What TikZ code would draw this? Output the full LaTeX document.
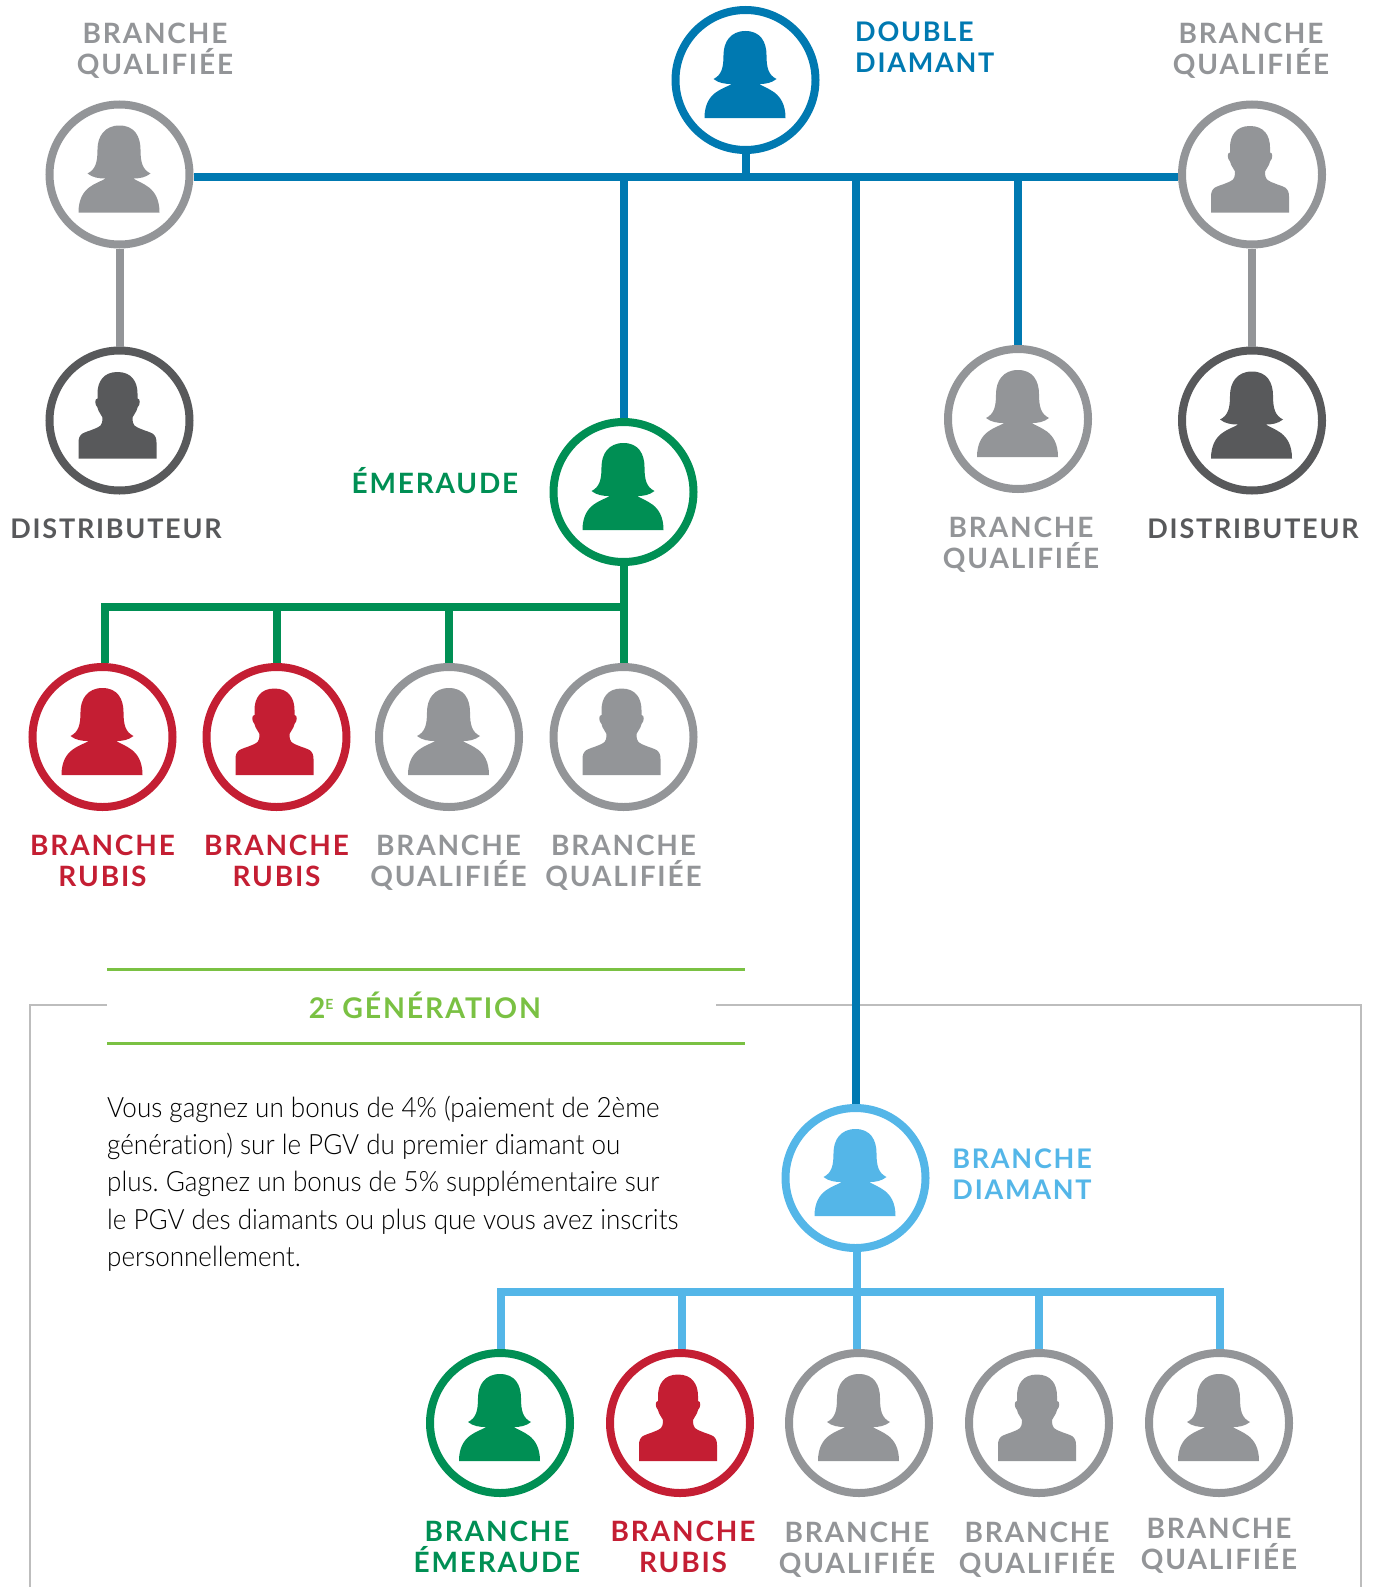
\documentclass[tikz,border=0pt]{standalone}
\usepackage{fontspec}
\setmainfont{Lato}
\newfontfamily\etiqfont[LetterSpace=6.5]{Lato}
\newfontfamily\corpsfont[FakeStretch=0.93,Ligatures=NoCommon]{Lato Light}
\definecolor{bleu}{HTML}{0079B1}
\definecolor{ciel}{HTML}{54B6E8}
\definecolor{vert}{HTML}{008F54}
\definecolor{rubis}{HTML}{C41E33}
\definecolor{gris}{HTML}{939598}
\definecolor{sombre}{HTML}{58595B}
\definecolor{lime}{HTML}{7AC143}
\definecolor{cadre}{HTML}{BDBDBD}
\tikzset{
  pers/.style={circle, draw=#1, line width=8pt, minimum size=140pt, inner sep=0pt},
  lien/.style={line width=8pt, draw=#1},
  etiq/.style={text=#1, font=\etiqfont\bfseries\fontsize{28}{31.4}\selectfont, align=center, inner sep=0pt},
  etiqp/.style={etiq=#1, font=\etiqfont\bfseries\fontsize{27}{31}\selectfont},
  femme/.pic={\fill[#1] (0,-49) .. controls (15,-49) and (21,-38) .. (21,-25)
    .. controls (21,-12) and (23,-5) .. (31,-1) .. controls (26,3) and (20,4) .. (14,4)
    .. controls (20,9) and (40,11) .. (40,38) -- (-41,38)
    .. controls (-41,11) and (-21,9) .. (-14,4) .. controls (-21,4) and (-27,3) .. (-32,-1)
    .. controls (-24,-5) and (-22,-12) .. (-22,-25) .. controls (-22,-38) and (-15,-49) .. (0,-49) -- cycle;},
  homme/.pic={\fill[#1] (-2,-48.5) .. controls (12,-48.5) and (18,-39) .. (18,-27) -- (18,-22)
    .. controls (21,-22) and (21,-16) .. (18,-13) .. controls (17,-8) and (14,-6) .. (13,-3)
    .. controls (13,2) and (14,4) .. (15,5) .. controls (20,9) and (30,11) .. (33,13)
    .. controls (36,15) and (37,18) .. (37,22) -- (37,38) -- (-41,38) -- (-41,22)
    .. controls (-41,18) and (-40,15) .. (-37,13) .. controls (-34,11) and (-24,9) .. (-19,5)
    .. controls (-18,4) and (-17,2) .. (-17,-3) .. controls (-18,-6) and (-21,-8) .. (-22,-13)
    .. controls (-25,-16) and (-25,-22) .. (-22,-22) -- (-22,-27)
    .. controls (-22,-39) and (-16,-48.5) .. (-2,-48.5) -- cycle;}
}
\begin{document}
\begin{tikzpicture}[x=1pt, y=-1pt]
    \useasboundingbox (0,0) rectangle (1376,1587);

    % Frame and title rules
    \draw[cadre, line width=1.3pt] (107,1005) -- (30,1005) -- (30,1587);
    \draw[cadre, line width=1.3pt] (716,1005) -- (1361,1005) -- (1361,1587);
    \draw[lime, line width=3pt] (107,969) -- (744.5,969);
    \draw[lime, line width=3pt] (107,1043) -- (744.5,1043);

    % Draw nodes for the top branch
    \node[pers=bleu] (dd) at (745.5,80) {};
    \node[pers=gris] (qg) at (119.5,174.5) {};
    \node[pers=gris] (qd) at (1252,174.5) {};
    \node[pers=sombre] (dg) at (119.5,420.5) {};
    \node[pers=sombre] (dr) at (1252,420.5) {};
    \node[pers=gris] (qm) at (1018,419) {};
    \node[pers=vert] (em) at (623.5,492) {};

    % Draw nodes for the emerald row
    \node[pers=rubis] (r1) at (102.5,737) {};
    \node[pers=rubis] (r2) at (276.5,737) {};
    \node[pers=gris] (q1) at (449,737) {};
    \node[pers=gris] (q2) at (623.5,737) {};

    % Draw nodes for the diamond row
    \node[pers=ciel] (bd) at (855.5,1178) {};
    \node[pers=vert] (b1) at (500,1423) {};
    \node[pers=rubis] (b2) at (680,1423) {};
    \node[pers=gris] (b3) at (859,1423) {};
    \node[pers=gris] (b4) at (1039,1423) {};
    \node[pers=gris] (b5) at (1219,1423) {};

    % Junctions
    \coordinate (hub) at (745.5,177);
    \coordinate (hubem) at (623.5,607);
    \coordinate (hubr) at (105,607);
    \coordinate (hubbd) at (857,1292);
    \coordinate (hubb1) at (501,1292);
    \coordinate (hubb2) at (682,1292);
    \coordinate (hubb5) at (1220,1292);

    % Draw edges of the top branch
    \draw[lien=bleu] (qg.east |- hub) -- (qd.west |- hub);
    \draw[lien=bleu] (dd) -- (hub);
    \draw[lien=bleu] (em |- hub) -- (em);
    \draw[lien=bleu] (qm |- hub) -- (qm);
    \draw[lien=bleu] (bd |- hub) -- (bd);
    \draw[lien=gris] (qg) -- (dg);
    \draw[lien=gris] (qd) -- (dr);

    % Draw edges of the emerald row
    \draw[lien=vert] (em) -- (q2);
    \draw[lien=vert, line cap=rect] (hubr) -- (hubem);
    \draw[lien=vert] (hubr) -- (hubr |- r1.north);
    \draw[lien=vert] (r2 |- hubem) -- (r2);
    \draw[lien=vert] (q1 |- hubem) -- (q1);

    % Draw edges of the diamond row
    \draw[lien=ciel] (hubbd |- bd.south) -- (hubbd);
    \draw[lien=ciel, line cap=rect] (hubb1) -- (hubb5);
    \draw[lien=ciel] (hubb1) -- (hubb1 |- b1.north);
    \draw[lien=ciel] (hubb2) -- (hubb2 |- b2.north);
    \draw[lien=ciel] (hubbd) -- (hubbd |- b3.north);
    \draw[lien=ciel] (b4 |- hubbd) -- (b4);
    \draw[lien=ciel] (hubb5) -- (hubb5 |- b5.north);

    % Silhouettes
    \pic at (dd) {femme=bleu};
    \pic at (qg) {femme=gris};
    \pic at (qd) {homme=gris};
    \pic at (dg) {homme=sombre};
    \pic at (dr) {femme=sombre};
    \pic at (qm) {femme=gris};
    \pic at (em) {femme=vert};
    \pic at (r1) {femme=rubis};
    \pic at (r2) {homme=rubis};
    \pic at (q1) {femme=gris};
    \pic at (q2) {homme=gris};
    \pic at (bd) {femme=ciel};
    \pic at (b1) {femme=vert};
    \pic at (b2) {homme=rubis};
    \pic at (b3) {femme=gris};
    \pic at (b4) {homme=gris};
    \pic at (b5) {femme=gris};

    % Labels
    \node[etiq=gris] (lqg) at (155,50.5) {BRANCHE\\QUALIFIÉE};
    \node[etiqp=bleu, anchor=west, align=left] (ldd) at (855,47.5) {DOUBLE\\DIAMANT};
    \node[etiq=gris] (lqd) at (1251,50.5) {BRANCHE\\QUALIFIÉE};
    \node[etiqp=sombre] (ldg) at (116,528.5) {DISTRIBUTEUR};
    \node[etiqp=sombre] (ldr) at (1253,528.5) {DISTRIBUTEUR};
    \node[etiq=gris] (lqm) at (1021,545) {BRANCHE\\QUALIFIÉE};
    \node[etiq=vert, anchor=base] (lem) at (435,493) {ÉMERAUDE};
    \node[etiq=rubis] (lr1) at (102.5,861) {BRANCHE\\RUBIS};
    \node[etiq=rubis] (lr2) at (276.5,861) {BRANCHE\\RUBIS};
    \node[etiq=gris] (lq1) at (448.5,863) {BRANCHE\\QUALIFIÉE};
    \node[etiq=gris] (lq2) at (623.5,863) {BRANCHE\\QUALIFIÉE};
    \node[etiqp=ciel] (lbd) at (1022,1174.5) {BRANCHE\\DIAMANT};
    \node[etiq=vert] (lb1) at (497,1547) {BRANCHE\\ÉMERAUDE};
    \node[etiq=rubis] (lb2) at (683,1547) {BRANCHE\\RUBIS};
    \node[etiq=gris] (lb3) at (857,1549.5) {BRANCHE\\QUALIFIÉE};
    \node[etiq=gris] (lb4) at (1037,1549.5) {BRANCHE\\QUALIFIÉE};
    \node[etiq=gris] (lb5) at (1219,1545.5) {BRANCHE\\QUALIFIÉE};

    % Text block
    \node[etiq=lime, anchor=base, font=\etiqfont\bfseries\fontsize{28.5}{31.4}\selectfont] (titre) at (425,1018) {2\raisebox{9pt}{\fontsize{14}{14}\selectfont E} GÉNÉRATION};
    \node[anchor=north west, inner sep=0pt, align=left, text=black,
          font=\corpsfont\frenchspacing\fontsize{28}{37.2}\selectfont] (corps) at (107,1096)
        {Vous gagnez un bonus de 4\% (paiement de 2ème\\
         génération) sur le PGV du premier diamant ou\\
         plus. Gagnez un bonus de 5\% supplémentaire sur\\
         le PGV des diamants ou plus que vous avez inscrits\\
         personnellement.};
\end{tikzpicture}
\end{document}
